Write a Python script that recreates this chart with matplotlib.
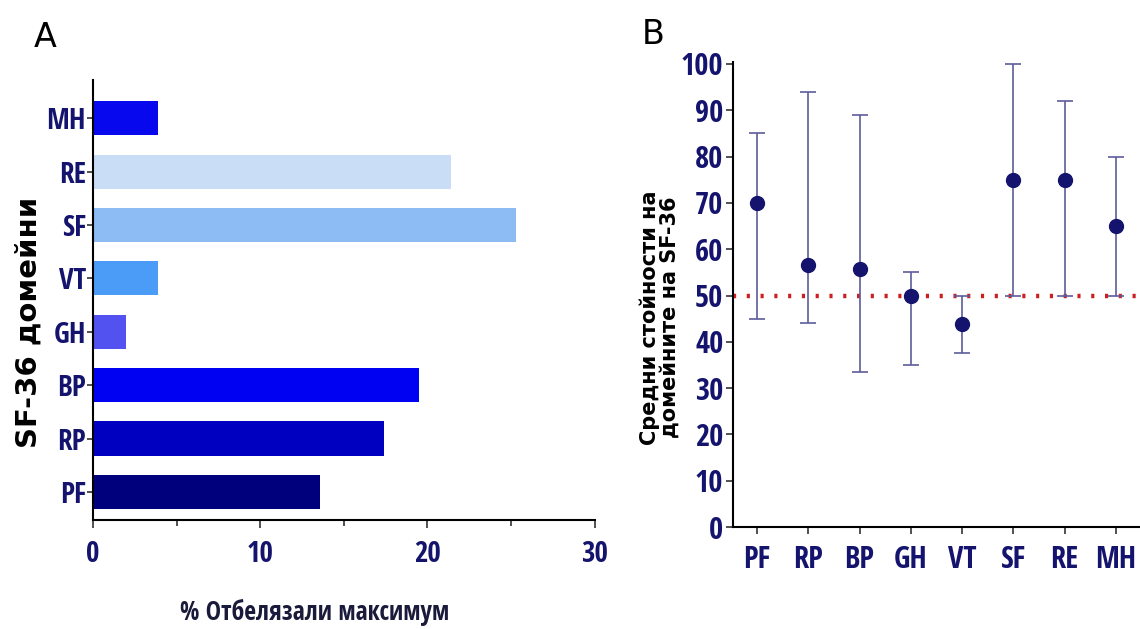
import matplotlib
matplotlib.use("Agg")
import matplotlib.pyplot as plt
import numpy as np
from matplotlib import font_manager

# Panel A data: percentage reporting the maximum score per SF-36 domain
domains_a = ["PF", "RP", "BP", "GH", "VT", "SF", "RE", "MH"]
pct_max = [13.6, 17.4, 19.5, 2.0, 3.9, 25.3, 21.4, 3.9]
bar_colors = ["#00007d", "#0000c0", "#0000f2", "#5252f0", "#4a9cf7", "#8dbbf3", "#c9def6", "#0808ef"]

# Panel B data: median and range of domain scores
domains_b = ["PF", "RP", "BP", "GH", "VT", "SF", "RE", "MH"]
medians = [70, 56.5, 55.7, 50, 43.8, 75, 75, 65]
low = [45, 44, 33.5, 35, 37.5, 50, 50, 50]
high = [85, 94, 89, 55, 50, 100, 92, 80]

installed = {f.name for f in font_manager.fontManager.ttflist}
narrow = [f for f in ["Open Sans Condensed", "Fira Sans Condensed", "IBM Plex Sans Condensed"]
          if f in installed] + ["DejaVu Sans"]

navy = "#14146e"
fig = plt.figure(figsize=(11.4, 6.29), dpi=100)

# ---- panel A ----
ax1 = fig.add_axes([0.0816, 0.173, 0.440, 0.700])
y = np.arange(len(domains_a))
ax1.barh(y, pct_max, height=0.64, color=bar_colors)
ax1.set_xlim(0, 30)
ax1.set_ylim(-0.53, 7.72)
ax1.set_yticks(y)
ax1.set_yticklabels(domains_a)
ax1.set_xticks([0, 10, 20, 30])
ax1.set_xticks([5, 15, 25], minor=True)
for s in ["top", "right"]:
    ax1.spines[s].set_visible(False)
for s in ["left", "bottom"]:
    ax1.spines[s].set_linewidth(1.5)
ax1.tick_params(axis="both", which="both", direction="out", width=1.2, color="#333333")
ax1.tick_params(axis="y", length=4, pad=1)
ax1.tick_params(axis="x", which="major", length=6, pad=8)
ax1.tick_params(axis="x", which="minor", length=4)
for lbl in ax1.get_yticklabels() + ax1.get_xticklabels():
    lbl.set_fontfamily(narrow)
    lbl.set_fontweight("bold")
    lbl.set_fontsize(21)
    lbl.set_color(navy)
ax1.set_xlabel("% Отбелязали максимум", fontfamily=narrow, fontweight="bold",
               fontsize=18.5, color="#1a1a3a")
ax1.xaxis.set_label_coords(0.442, -0.178)
ax1.set_ylabel("SF-36 домейни", fontweight="bold", fontsize=21, color="black")
ax1.yaxis.set_label_coords(-0.10, 0.45)
fig.text(0.030, 0.925, "A", fontsize=24, color="black")

# ---- panel B ----
ax2 = fig.add_axes([0.643, 0.162, 0.357, 0.740])
x = np.arange(len(domains_b))
med = np.array(medians)
yerr = [med - np.array(low), np.array(high) - med]
ax2.axhline(50, color="#cc2020", linestyle=(0, (0.7, 2.4)), linewidth=3.2, zorder=1)
ax2.errorbar(x, med, yerr=yerr, fmt="o", color=navy, markersize=10,
             ecolor="#5c5c9c", elinewidth=1.2, capsize=6, capthick=1.2, zorder=3)
ax2.set_xlim(-0.47, 7.47)
ax2.set_ylim(0, 100.5)
ax2.set_xticks(x)
ax2.set_xticklabels(domains_b)
ax2.set_yticks(range(0, 101, 10))
for s in ["top", "right"]:
    ax2.spines[s].set_visible(False)
for s in ["left", "bottom"]:
    ax2.spines[s].set_linewidth(1.5)
ax2.tick_params(axis="both", direction="out", width=1.2, length=5, color="#333333")
ax2.tick_params(axis="x", pad=8)
ax2.tick_params(axis="y", pad=2)
for lbl in ax2.get_yticklabels() + ax2.get_xticklabels():
    lbl.set_fontfamily(narrow)
    lbl.set_fontweight("bold")
    lbl.set_fontsize(22)
    lbl.set_color(navy)
ax2.set_ylabel("Средни стойности на\nдомейните на SF-36", fontweight="bold",
               fontsize=15, color="black", linespacing=1.0)
ax2.yaxis.set_label_coords(-0.13, 0.45)
fig.text(0.563, 0.93, "B", fontsize=24, color="black")

fig.savefig("out.png", dpi=100)
